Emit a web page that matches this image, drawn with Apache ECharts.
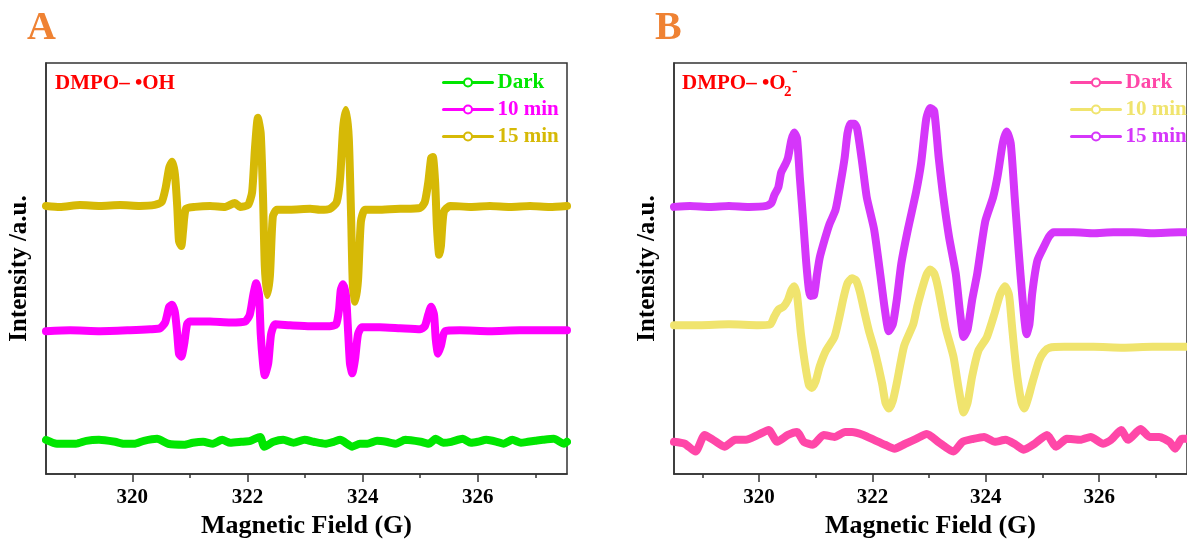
<!DOCTYPE html>
<html>
<head>
<meta charset="utf-8">
<script src="https://cdn.jsdelivr.net/npm/echarts@6/dist/echarts.min.js"></script>
<style>html,body{margin:0;padding:0;background:#fff;}#c{width:1187px;height:544px;}</style>
</head>
<body>
<div id="c"></div>
<script>
// ---- Data (Magnetic field in G, intensity in a.u.) ----
const majorTicks = [320, 322, 324, 326];
const minorTicks = [319, 321, 323, 325, 327];
const seriesNames = ['Dark', '10 min', '15 min'];

// Panel A: DMPO-•OH
const aDark = [[318.50,35],[318.69,31],[319.02,31],[319.20,34],[319.42,35],[319.70,33],[319.85,31],[320.03,31],[320.20,34],[320.43,36],[320.62,31],[320.90,30],[321.05,32],[321.23,33],[321.40,31],[321.56,35],[321.70,32],[321.89,33],[322.05,34],[322.22,38],[322.29,28],[322.45,33],[322.62,35],[322.80,32],[322.99,35],[323.15,33],[323.35,31],[323.50,33],[323.61,35],[323.82,28],[323.95,31],[324.08,31],[324.25,34],[324.41,33],[324.58,31],[324.74,35],[325.01,33],[325.15,31],[325.27,36],[325.40,32],[325.54,33],[325.74,36],[325.88,32],[326.00,33],[326.15,35],[326.33,33],[326.45,31],[326.60,35],[326.75,32],[326.87,33],[327.00,34],[327.13,35],[327.32,36],[327.50,31],[327.55,33]];
const a10 = [[318.50,146],[318.92,147],[319.44,146],[319.96,147],[320.31,148],[320.48,149],[320.57,155],[320.64,171],[320.69,173],[320.74,165],[320.78,143],[320.81,123],[320.85,120],[320.90,133],[320.95,153],[321.00,156],[321.35,156],[321.70,155],[321.96,156],[322.04,163],[322.10,183],[322.15,195],[322.20,183],[322.23,143],[322.27,113],[322.30,101],[322.36,113],[322.41,143],[322.48,153],[322.74,152],[323.09,151],[323.43,151],[323.54,153],[323.59,168],[323.62,188],[323.66,194],[323.71,183],[323.75,143],[323.78,113],[323.82,103],[323.87,118],[323.92,143],[323.99,150],[324.30,150],[324.65,149],[325.00,148],[325.08,151],[325.14,163],[325.19,171],[325.24,163],[325.27,138],[325.31,123],[325.36,131],[325.43,146],[325.69,147],[326.21,146],[326.73,147],[327.25,147],[327.55,147]];
const a15 = [[318.50,274],[318.74,273],[319.09,275],[319.44,274],[319.79,275],[320.13,274],[320.39,275],[320.51,278],[320.58,293],[320.64,313],[320.69,319],[320.74,306],[320.78,273],[320.81,238],[320.85,233],[320.88,248],[320.93,271],[321.09,273],[321.35,274],[321.61,273],[321.78,277],[321.87,273],[322.01,275],[322.08,288],[322.13,333],[322.18,364],[322.23,348],[322.27,283],[322.30,213],[322.34,183],[322.39,203],[322.44,263],[322.51,270],[322.74,270],[323.09,271],[323.26,270],[323.43,271],[323.55,278],[323.61,303],[323.66,353],[323.71,372],[323.76,343],[323.80,263],[323.83,193],[323.87,176],[323.92,198],[323.97,258],[324.04,270],[324.30,270],[324.65,271],[325.00,272],[325.08,278],[325.14,298],[325.19,323],[325.22,324],[325.26,298],[325.29,253],[325.33,224],[325.36,233],[325.41,268],[325.52,274],[325.87,273],[326.21,274],[326.56,273],[326.91,274],[327.25,273],[327.55,274]];

// Panel B: DMPO-•O2-
const bDark = [[318.50,33],[318.69,31],[318.88,23],[319.04,40],[319.19,35],[319.39,28],[319.58,35],[319.77,35],[319.98,40],[320.17,45],[320.32,33],[320.51,40],[320.67,43],[320.79,33],[320.95,30],[321.14,40],[321.33,38],[321.52,43],[321.64,43],[321.84,40],[322.03,35],[322.22,30],[322.39,26],[322.58,31],[322.77,36],[322.96,41],[323.16,33],[323.43,23],[323.59,33],[323.78,36],[323.97,38],[324.16,33],[324.35,35],[324.53,30],[324.67,25],[324.86,31],[325.08,40],[325.24,28],[325.43,36],[325.67,35],[325.85,38],[326.07,31],[326.21,35],[326.39,45],[326.51,35],[326.73,46],[326.89,38],[327.06,38],[327.24,33],[327.34,26],[327.46,36],[327.55,36]];
const b10 = [[318.50,152],[318.95,152],[319.47,153],[319.99,152],[320.20,153],[320.27,161],[320.34,168],[320.43,171],[320.51,178],[320.57,188],[320.62,192],[320.67,183],[320.74,143],[320.81,113],[320.88,91],[320.93,88],[321.00,95],[321.07,110],[321.18,126],[321.33,140],[321.42,161],[321.49,180],[321.56,195],[321.64,200],[321.71,198],[321.78,186],[321.87,163],[321.94,146],[322.04,126],[322.17,93],[322.23,73],[322.29,67],[322.36,75],[322.43,93],[322.56,131],[322.72,153],[322.79,171],[322.86,186],[322.95,203],[323.02,209],[323.09,205],[323.16,190],[323.29,150],[323.43,120],[323.52,88],[323.61,63],[323.68,73],[323.76,100],[323.87,126],[324.02,140],[324.16,165],[324.25,183],[324.34,192],[324.41,183],[324.46,153],[324.51,123],[324.56,98],[324.63,73],[324.68,67],[324.75,78],[324.82,93],[324.94,116],[325.03,125],[325.12,129],[325.38,130],[325.90,130],[326.42,129],[326.94,130],[327.55,130]];
const b15 = [[318.50,273],[318.78,274],[319.13,273],[319.47,274],[319.82,273],[320.13,274],[320.22,277],[320.27,285],[320.34,293],[320.39,308],[320.46,316],[320.51,323],[320.57,341],[320.62,349],[320.67,343],[320.72,303],[320.78,258],[320.83,218],[320.88,188],[320.91,182],[320.97,183],[321.02,203],[321.07,221],[321.16,240],[321.24,255],[321.35,270],[321.44,298],[321.51,323],[321.56,348],[321.61,358],[321.68,358],[321.73,353],[321.82,318],[321.90,283],[322.03,250],[322.13,208],[322.22,168],[322.29,146],[322.36,153],[322.43,178],[322.51,215],[322.63,251],[322.77,288],[322.86,318],[322.95,363],[323.02,374],[323.09,371],[323.17,323],[323.24,288],[323.35,243],[323.47,205],[323.55,163],[323.61,140],[323.68,148],[323.76,178],[323.85,205],[323.99,258],[324.13,283],[324.21,305],[324.30,338],[324.37,350],[324.44,338],[324.51,283],[324.58,228],[324.65,178],[324.72,143],[324.77,153],[324.82,185],[324.91,218],[325.03,233],[325.12,243],[325.20,247],[325.55,247],[325.90,246],[326.25,247],[326.59,247],[326.94,246],[327.41,247],[327.55,247]];

const colorsA = ['#00E600', '#FF00FF', '#D6B906'];
const colorsB = ['#FF47A8', '#F0E46E', '#D536FA'];

// ---- Chart ----
const FONT = "'Liberation Serif', 'Times New Roman', serif";
const chart = echarts.init(document.getElementById('c'), null, {renderer: 'canvas'});

function xAxes(gridIndex) {
  return [{
    type: 'value', gridIndex, min: 318.5, max: 327.55, position: 'bottom',
    name: 'Magnetic Field (G)', nameLocation: 'middle', nameGap: 28,
    nameTextStyle: {fontFamily: FONT, fontWeight: 'bold', fontSize: 26, color: '#000'},
    axisLine: {show: true, lineStyle: {color: '#333', width: 1.5}},
    axisTick: {show: true, length: 8, customValues: majorTicks, lineStyle: {color: '#333', width: 1.5}},
    axisLabel: {show: true, customValues: majorTicks, margin: 13, fontFamily: FONT, fontWeight: 'bold', fontSize: 21, color: '#000'},
    splitLine: {show: false}
  }, {
    type: 'value', gridIndex, min: 318.5, max: 327.55, position: 'bottom',
    axisLine: {show: false},
    axisTick: {show: true, length: 4, customValues: minorTicks, lineStyle: {color: '#333', width: 1.5}},
    axisLabel: {show: false},
    splitLine: {show: false}
  }];
}
function yAxis(gridIndex) {
  return {
    type: 'value', gridIndex, min: 0, max: 420,
    name: 'Intensity /a.u.', nameLocation: 'middle', nameGap: 14,
    nameTextStyle: {fontFamily: FONT, fontWeight: 'bold', fontSize: 25, color: '#000'},
    axisLine: {show: true, lineStyle: {color: '#333', width: 1.5}},
    axisTick: {show: false}, axisLabel: {show: false}, splitLine: {show: false}
  };
}
function lineSeries(name, data, color, xi, yi) {
  return {
    type: 'line', name, data, xAxisIndex: xi, yAxisIndex: yi,
    symbol: 'emptyCircle', symbolSize: 8, showSymbol: false, smooth: 0.2,
    lineStyle: {width: 8, color, cap: 'round', join: 'round'},
    itemStyle: {color, borderWidth: 2},
    emphasis: {disabled: true}, silent: true, animation: false
  };
}
function legend(left, names, colors, prefix) {
  return {
    orient: 'vertical', left, top: 72, padding: 0,
    itemWidth: 49, itemHeight: 10, itemGap: 6,
    lineStyle: {width: 3}, itemStyle: {borderWidth: 2},
    selectedMode: false,
    formatter: n => n.replace(prefix, ''),
    textStyle: {fontFamily: FONT, fontWeight: 'bold', fontSize: 21},
    data: names.map((n, i) => ({name: prefix + n, textStyle: {color: colors[i]}}))
  };
}
function txt(x, y, text, size, color) {
  return {type: 'text', x, y, silent: true,
    style: {text, fill: color, font: 'bold ' + size + 'px ' + FONT, textVerticalAlign: 'middle', verticalAlign: 'middle'}};
}

const aData = [aDark, a10, a15];
const bData = [bDark, b10, b15];

chart.setOption({
  animation: false,
  grid: [
    {left: 46, top: 63, width: 521, height: 420, show: true, borderColor: '#333', borderWidth: 1.5, backgroundColor: 'transparent'},
    {left: 674, top: 63, width: 521, height: 420, show: true, borderColor: '#333', borderWidth: 1.5, backgroundColor: 'transparent'}
  ],
  xAxis: [...xAxes(0), ...xAxes(1)],
  yAxis: [yAxis(0), yAxis(1)],
  legend: [legend(442, seriesNames, colorsA, ''), legend(1070, seriesNames, colorsB, 'B ')],
  series: [
    ...seriesNames.map((n, i) => lineSeries(n, aData[i], colorsA[i], 0, 0)),
    ...seriesNames.map((n, i) => lineSeries('B ' + n, bData[i], colorsB[i], 2, 1))
  ],
  graphic: [
    txt(27, 29, 'A', 40, '#EF8233'),
    txt(655, 29, 'B', 40, '#EF8233'),
    txt(55, 84, 'DMPO– •OH', 21, '#FF0000'),
    txt(682, 84, 'DMPO– •O', 21, '#FF0000'),
    txt(784, 92, '2', 15, '#FF0000'),
    txt(792, 72, '-', 17, '#FF0000')
  ]
});
</script>
</body>
</html>
